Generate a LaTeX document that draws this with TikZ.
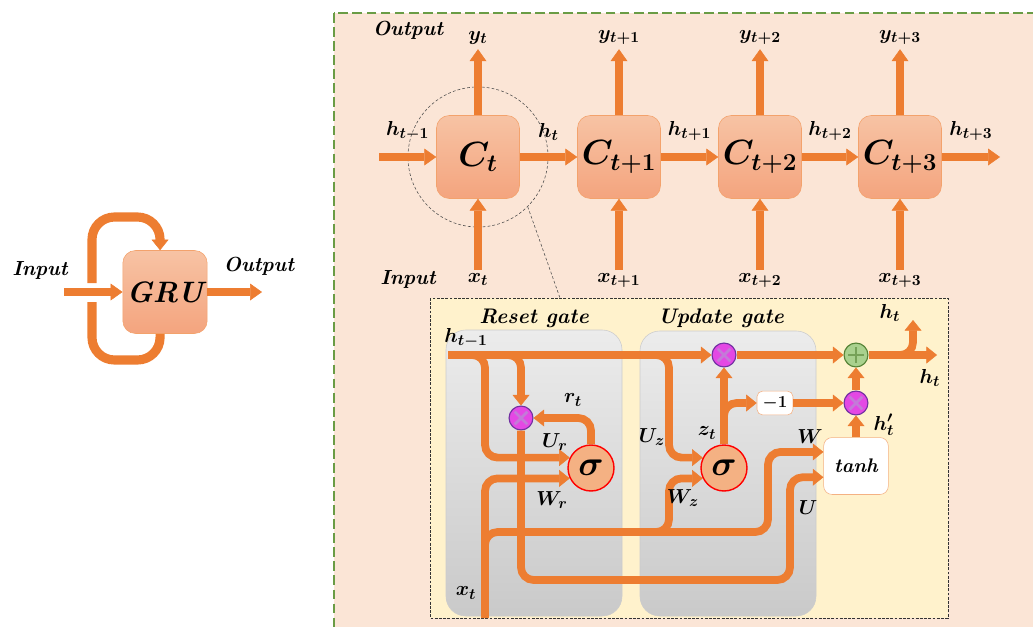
\documentclass[tikz,border=0pt]{standalone}
\usepackage{amsmath,bm}
\usetikzlibrary{positioning,calc,arrows.meta}
\definecolor{pipe}{HTML}{ED7D31}
\definecolor{framefill}{HTML}{FBE5D6}
\definecolor{frameline}{HTML}{6A9C45}
\definecolor{zoomfill}{HTML}{FFF2CC}
\definecolor{celltop}{HTML}{F7C3A4}
\definecolor{cellbot}{HTML}{F4A47E}
\definecolor{cellline}{HTML}{F3A26C}
\definecolor{mulfill}{HTML}{E448E4}
\definecolor{mulline}{HTML}{7030A0}
\definecolor{mulx}{HTML}{C47AD8}
\definecolor{addfill}{HTML}{A9D18E}
\definecolor{addline}{HTML}{548235}
\definecolor{sigfill}{HTML}{F4B183}
\definecolor{boxline}{HTML}{F4B183}

\begin{document}
\begin{tikzpicture}[x=0.025cm,y=-0.025cm,
 lab/.style={font=\fontsize{15}{17}\selectfont,inner sep=1pt},
 word/.style={font=\fontsize{14.5}{16}\selectfont\bfseries\itshape,inner sep=1pt},
 cell/.style={draw=cellline,rounded corners=9pt,top color=celltop,bottom color=cellbot,minimum size=59pt,inner sep=0pt,font=\fontsize{26}{28}\selectfont},
 gate/.style={draw=gray!40,rounded corners=14pt,top color=gray!15,bottom color=gray!42},
 ar/.style={-{Triangle[length=8.5pt,width=12pt,line width=0.4pt]},line width=5pt,draw=pipe},
 pp/.style={line width=5.5pt,draw=pipe,rounded corners=9pt},
 pa/.style={pp,-{Triangle[length=7.5pt,width=12pt,line width=0.4pt]}},
 mul/.style={circle,draw=mulline,fill=mulfill,thick,minimum size=17pt,inner sep=0pt,
  path picture={\draw[mulx,line width=2pt] ([shift={(-4.5pt,-4.5pt)}]path picture bounding box.center) -- ([shift={(4.5pt,4.5pt)}]path picture bounding box.center) ([shift={(-4.5pt,4.5pt)}]path picture bounding box.center) -- ([shift={(4.5pt,-4.5pt)}]path picture bounding box.center);}},
 add/.style={circle,draw=addline,fill=addfill,thick,minimum size=17pt,inner sep=0pt,
  path picture={\draw[addline!60!addfill,line width=2pt] ([xshift=-5.5pt]path picture bounding box.center) -- ([xshift=5.5pt]path picture bounding box.center) ([yshift=-5.5pt]path picture bounding box.center) -- ([yshift=5.5pt]path picture bounding box.center);}},
 sig/.style={circle,draw=red,line width=1pt,fill=sigfill,minimum size=32.7pt,inner sep=0pt,font=\fontsize{24}{26}\selectfont},
 wbox/.style={draw=boxline,fill=white,rounded corners=4pt,inner sep=0pt}]
\useasboundingbox (0,0) rectangle (1033,626);
\clip (0,0) rectangle (1033,626);

\node[cell,minimum width=60pt,font=\fontsize{21}{23}\selectfont\bfseries\itshape] (gru) at (165,292) {GRU};
\coordinate (gin) at (64,292);
\coordinate (gout) at (262,292);
\coordinate (lt) at (92,283);
\coordinate (lb) at (92,302);
\draw[ar] (gin) -- (gru.west);
\draw[ar] (gru.east) -- (gout);
\draw[pa,line width=6.5pt,rounded corners=16pt] (lt) -- (92,217) -- (160,217) -- ([xshift=-3.5pt]gru.north);
\draw[pp,line width=6.5pt,rounded corners=16pt] (lb) -- (92,360) -- (160,360) -- ([xshift=-3.5pt]gru.south);
\node[word] (win) at (40,270) {Input};
\node[word] (wout) at (259,266) {Output};

\draw[frameline,line width=1pt,dash pattern=on 7pt off 3pt,fill=framefill] (334,13) rectangle (1050,640);
\node[word] (tout) at (408,30) {Output};
\node[word] (tin) at (408,279) {Input};

\node[draw=black!70,dash pattern=on 2pt off 1.5pt,circle,minimum size=99.6pt,inner sep=0pt] (lens) at (478,157) {};
\foreach \i/\x/\s in {0/478/t,1/619/t+1,2/760/t+2,3/900/t+3}{
  \node[cell] (c\i) at (\x,157) {$\boldsymbol{C_{\s}}$};
  \coordinate (xi\i) at (\x,270);
  \draw[ar] (c\i.north) -- ++(0,-66) node[lab,above=0pt] (y\i) {$\boldsymbol{y_{\s}}$};
  \draw[ar] (xi\i) -- (c\i.south);
  \node[lab,below=1pt] (xl\i) at (xi\i) {$\boldsymbol{x_{\s}}$};
}
\coordinate (hin) at (379,157);
\coordinate (hout) at (1000,157);
\draw[ar] (hin) -- node[lab,above=8pt] (hl) {$\boldsymbol{h_{t-1}}$} (c0.west);
\foreach \a/\b/\s in {0/1/t,1/2/t+1,2/3/t+2}
  \draw[ar] (c\a.east) -- node[lab,above=8pt] (hl\a) {$\boldsymbol{h_{\s}}$} (c\b.west);
\draw[ar] (c3.east) -- node[lab,above=8pt] (hl3) {$\boldsymbol{h_{t+3}}$} (hout);

\coordinate (lensend) at (560,298);
\draw[black!70,dash pattern=on 2pt off 1.5pt] (lens.-45) -- (lensend);
\draw[black!80,dash pattern=on 2pt off 1pt,fill=zoomfill] (430,298) rectangle (948,618);
\draw[gate] (446,330) rectangle (622,616);
\draw[gate] (640,331) rectangle (816,616);
\node[word,font=\fontsize{15}{17}\selectfont\bfseries\itshape] (treset) at (534,318) {Reset gate};
\node[word,font=\fontsize{15}{17}\selectfont\bfseries\itshape] (tupdate) at (721,318) {Update gate};

\node[mul] (mr) at (521,418) {};
\node[mul] (mz) at (724,355) {};
\node[mul] (mh) at (856,403) {};
\node[add] (ps) at (856,355) {};
\node[sig] (sr) at (591,468) {$\boldsymbol{\sigma}$};
\node[sig] (sz) at (724,468) {$\boldsymbol{\sigma}$};
\node[wbox,minimum width=25.6pt,minimum height=17pt,font=\fontsize{13}{15}\selectfont] (neg) at (775,403) {$\boldsymbol{-1}$};
\node[wbox,rounded corners=6pt,minimum width=46pt,minimum height=40.5pt,font=\fontsize{14}{16}\selectfont\bfseries\itshape] (tanh) at (856,466) {tanh};

\coordinate (hprev) at (448,355);
\coordinate (b1) at (456,355);
\coordinate (b2) at (494,355);
\coordinate (b3) at (644,355);
\coordinate (xin) at (485,618);
\coordinate (b4) at (485,585);
\coordinate (b5) at (648,532);
\coordinate (b6) at (724,428);
\coordinate (b7) at (888,355);
\coordinate (hnext) at (937,355);
\coordinate (hup) at (913,320);
\draw[pa] (hprev) -- (mz.west);
\draw[pa] (b1) -- (485,355) |- (sr.154);
\draw[pa] (b2) -| (mr.north);
\draw[pa] (sr.north) |- (mr.east);
\draw[pa] (mr.south) |- (790,580) |- ([yshift=-8pt]tanh.west);
\draw[pa] (xin) |- (sr.206);
\draw[pa] (b4) |- (768,532) |- ([yshift=10pt]tanh.west);
\draw[pa] (b5) -- (669,532) |- (sz.206);
\draw[pa] (b3) -- (669,355) |- (sz.154);
\draw[pa] (sz.north) -- (mz.south);
\draw[pa] (b6) |- (neg.west);
\draw[pa] (neg.east) -- (mh.west);
\draw[pa] (tanh.north) -- (mh.south);
\draw[pa] (mh.north) -- (ps.south);
\draw[pa] (mz.east) -- (ps.west);
\draw[pa] (ps.east) -- (hnext);
\draw[pa] (b7) -| (hup);

\node[lab] (lh) at (466,338) {$\boldsymbol{h_{t-1}}$};
\node[lab] (lur) at (555,442) {$\boldsymbol{U_r}$};
\node[lab] (lwr) at (552,500) {$\boldsymbol{W_r}$};
\node[lab] (lrt) at (573,400) {$\boldsymbol{r_t}$};
\node[lab] (luz) at (652,437) {$\boldsymbol{U_z}$};
\node[lab] (lwz) at (683,498) {$\boldsymbol{W_z}$};
\node[lab] (lzt) at (707,433) {$\boldsymbol{z_t}$};
\node[lab] (lw) at (810,437) {$\boldsymbol{W}$};
\node[lab] (lu) at (808,508) {$\boldsymbol{U}$};
\node[lab] (lhp) at (884,425) {$\boldsymbol{h'_t}$};
\node[lab] (lhu) at (890,313) {$\boldsymbol{h_t}$};
\node[lab] (lhr) at (930,378) {$\boldsymbol{h_t}$};
\node[lab] (lxt) at (466,593) {$\boldsymbol{x_t}$};
\end{tikzpicture}
\end{document}
